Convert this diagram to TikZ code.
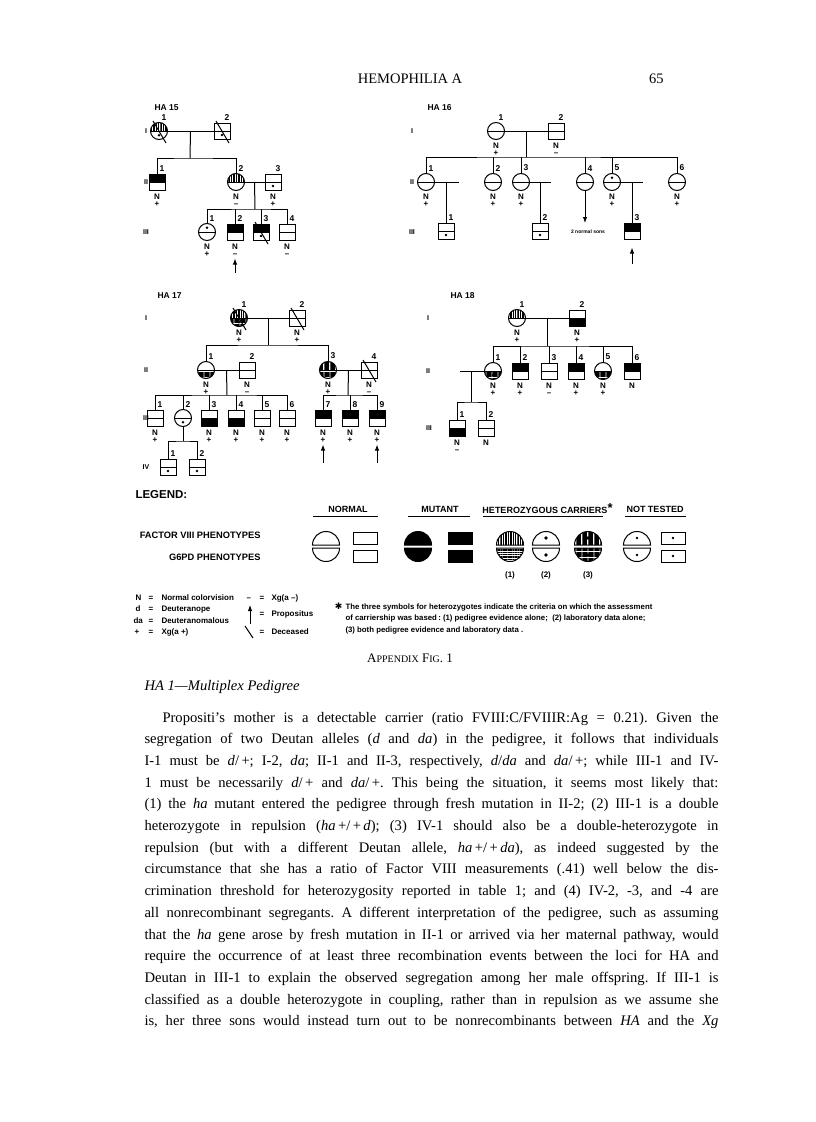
\documentclass[tikz,border=0pt]{standalone}
\usepackage{fontspec}
\setmainfont{Liberation Serif}
\setsansfont{Liberation Sans}
\newfontfamily\symfont{DejaVu Sans}
\usetikzlibrary{positioning,calc,arrows.meta,patterns.meta}
\frenchspacing

\newcommand\patnone[1]{}
\newcommand\patblack[1]{\fill (path picture bounding box.west) rectangle (path picture bounding box.#1 east);}
\newcommand\patdot[1]{\fill ($(path picture bounding box.center)!0.5!(path picture bounding box.#1)$) circle[radius=1.4];}
\newcommand\patvl[1]{\fill[pattern={Lines[angle=90,distance=1.7pt,line width=0.6pt]}] (path picture bounding box.west) rectangle (path picture bounding box.#1 east);}
\newcommand\pathl[1]{\fill[pattern={Lines[angle=0,distance=1.7pt,line width=0.6pt]}] (path picture bounding box.west) rectangle (path picture bounding box.#1 east);}
\newcommand\patvd[1]{\fill[pattern={Lines[angle=90,distance=1.2pt,line width=0.8pt]}] (path picture bounding box.west) rectangle (path picture bounding box.#1 east);\patdot{#1}}
\newcommand\pathd[1]{\fill[pattern={Lines[angle=0,distance=1.2pt,line width=0.8pt]}] (path picture bounding box.west) rectangle (path picture bounding box.#1 east);\patdot{#1}}

\newcommand\person[6]{%
  \node[#4] (#1) at (#2,#3) {};
  \node[num, anchor=south] (#1n) at ([xshift=5pt,yshift=1.5pt]#1.north) {#5};
  \if\relax\detokenize{#6}\relax\else
    \node[ntext, anchor=north] (#1t) at ([yshift=-2.5pt]#1.south) {#6};
  \fi}
\newcommand\dead[1]{\draw ([shift={(-6,-10)}]#1.center) -- ([shift={(7,12)}]#1.center);}

\def\lr{13.5}
\newcommand\dome[3]{\draw[#3] (#1,#2) ++(-\lr,0) arc[start angle=180,end angle=360,radius=\lr] -- cycle;}
\newcommand\bowl[3]{\draw[#3] (#1,#2) ++(-\lr,0) arc[start angle=180,end angle=0,radius=\lr] -- cycle;}
\newcommand\slab[3]{\draw[#3] (#1-12,#2) rectangle (#1+12,#2+12);}

\begin{document}
\begin{tikzpicture}[x=1pt, y=-1pt, line width=1pt,
  fviii/.estore in=\fviiipat, gpd/.estore in=\gpdpat,
  indiv/.style={draw, inner sep=0pt, fviii=none, gpd=none,
    path picture={\csname pat\fviiipat\endcsname{north}\csname pat\gpdpat\endcsname{south}
      \draw (path picture bounding box.west) -- (path picture bounding box.east);}},
  fem/.style={indiv, circle, minimum size=17pt},
  mal/.style={indiv, rectangle, minimum size=16pt},
  num/.style={font=\sffamily\bfseries\fontsize{8.5}{8.5}\selectfont, inner sep=0pt},
  ntext/.style={font=\sffamily\bfseries\fontsize{8}{7}\selectfont, align=center, inner sep=0pt},
  gen/.style={font=\sffamily\bfseries\fontsize{7}{7}\selectfont, inner sep=0pt},
  title/.style={font=\sffamily\bfseries\fontsize{8.5}{8.5}\selectfont, inner sep=0pt, anchor=west},
  pro/.style={-{Latex[length=6pt,width=4.5pt]}},
  hdr/.style={font=\sffamily\bfseries\fontsize{9}{9}\selectfont, inner sep=0pt},
  rowtxt/.style={font=\sffamily\bfseries\fontsize{9.3}{9.3}\selectfont, inner sep=0pt, anchor=east},
  keytxt/.style={font=\sffamily\bfseries\fontsize{8}{8}\selectfont, inner sep=0pt, anchor=base west},
  note/.style={font=\sffamily\bfseries\fontsize{7.8}{11.5}\selectfont, inner sep=0pt, align=left, anchor=north west},
  body/.style={font=\fontsize{14.6}{17}\selectfont, inner sep=0pt, anchor=base west}]

\useasboundingbox (0,0) rectangle (816,1122);
\fill[white] (0,0) rectangle (816,1122);

\node[font=\fontsize{14.5}{14.5}\selectfont, inner sep=0pt] (head) at (410,79) {HEMOPHILIA A};
\node[font=\fontsize{14.5}{14.5}\selectfont, inner sep=0pt, anchor=east] (page) at (664,79) {65};

% HA 15
\node[title] (t15) at (154,108) {HA 15};
\node[gen] (g15a) at (146,131) {I};
\node[gen] (g15b) at (146,182) {II};
\node[gen] (g15c) at (146,232) {III};
\person{h15a1}{159}{131}{fem,fviii=vl,gpd=dot}{1}{}
\person{h15a2}{222}{131}{mal,gpd=dot}{2}{}
\dead{h15a1} \dead{h15a2}
\person{h15b1}{157}{182}{mal,fviii=black}{1}{N\\+}
\person{h15b2}{236}{182}{fem,fviii=vl}{2}{N\\–}
\person{h15b3}{273}{182}{mal,gpd=dot}{3}{N\\+}
\person{h15c1}{207}{232}{fem,fviii=dot}{1}{N\\+}
\person{h15c2}{235}{232}{mal,fviii=black}{2}{N\\–}
\person{h15c3}{261}{232}{mal,fviii=black,gpd=dot}{3}{}
\person{h15c4}{287}{232}{mal}{4}{N\\–}
\dead{h15c3}
\coordinate (m15a) at ($(h15a1)!0.5!(h15a2)$);
\coordinate (s15a) at (190,158);
\coordinate (m15b) at ($(h15b2)!0.5!(h15b3)$);
\coordinate (s15b) at (255,209);
\draw (h15a1) -- (h15a2);
\draw (m15a) -- (s15a);
\draw (h15b1.north) |- (s15a) -| (h15b2.north);
\draw (h15b2) -- (h15b3);
\draw (m15b) -- (s15b);
\draw (h15c1.north) |- (s15b) -| (h15c4.north);
\draw (h15c2.north) -- (h15c2 |- s15b);
\draw (h15c3.north) -- (h15c3 |- s15b);
\coordinate (q15) at (235,273);
\draw[pro] (q15) -- ([yshift=-2pt]h15c2t.south);

% HA 16
\node[title] (t16) at (427,108) {HA 16};
\node[gen] (g16a) at (412,131) {I};
\node[gen] (g16b) at (412,182) {II};
\node[gen] (g16c) at (412,232) {III};
\person{h16a1}{496}{131}{fem}{1}{N\\+}
\person{h16a2}{556}{131}{mal}{2}{N\\–}
\person{h16b1}{426}{182}{fem}{1}{N\\+}
\person{h16b2}{493}{182}{fem}{2}{N\\+}
\person{h16b3}{521}{182}{fem}{3}{N\\+}
\person{h16b4}{585}{182}{fem}{4}{}
\person{h16b5}{612}{182}{fem,fviii=dot}{5}{N\\+}
\person{h16b6}{677}{182}{fem}{6}{N\\+}
\person{h16c1}{446}{231}{mal,gpd=dot}{1}{}
\person{h16c2}{540}{231}{mal,gpd=dot}{2}{}
\person{h16c3}{632}{231}{mal,fviii=black}{3}{}
\coordinate (m16) at ($(h16a1)!0.5!(h16a2)$);
\coordinate (s16) at (526,157);
\coordinate (w16a) at (459,182);
\coordinate (w16b) at (551,182);
\coordinate (w16c) at (643,182);
\coordinate (e16) at (585,223);
\draw (h16a1) -- (h16a2);
\draw (m16) -- (s16);
\draw (h16b1.north) |- (s16) -| (h16b6.north);
\foreach \k in {2,3,4,5} \draw (h16b\k.north) -- (h16b\k |- s16);
\draw (h16b1) -- (w16a);
\draw (h16b3) -- (w16b);
\draw (h16b5) -- (w16c);
\draw (h16b1 -| h16c1) -- (h16c1.north);
\draw (h16b3 -| h16c2) -- (h16c2.north);
\draw (h16b5 -| h16c3) -- (h16c3.north);
\draw[pro] (h16b4) -- (e16);
\node[font=\sffamily\bfseries\fontsize{5}{5}\selectfont, inner sep=0pt] (n16) at (588,232) {2 normal sons};
\coordinate (q16) at (632,264);
\draw[pro] (q16) -- ([yshift=-8pt]h16c3.south);

% HA 17
\node[title] (t17) at (157,296) {HA 17};
\node[gen] (g17a) at (146,318) {I};
\node[gen] (g17b) at (146,370) {II};
\node[gen] (g17c) at (146,418) {III};
\node[gen] (g17d) at (146,467) {IV};
\person{h17a1}{239}{318}{fem,fviii=vl,gpd=hd}{1}{N\\+}
\person{h17a2}{297}{318}{mal}{2}{N\\+}
\dead{h17a1} \dead{h17a2}
\person{h17b1}{206}{370}{fem,gpd=hd}{1}{N\\+}
\person{h17b2}{247}{370}{mal}{2}{N\\–}
\person{h17b3}{328}{370}{fem,fviii=vd,gpd=hd}{3}{N\\+}
\person{h17b4}{369}{370}{mal}{4}{N\\–}
\dead{h17b4}
\person{h17c1}{155}{418}{mal}{1}{N\\+}
\person{h17c2}{183}{418}{fem,gpd=dot}{2}{}
\person{h17c3}{209}{418}{mal,gpd=black}{3}{N\\+}
\person{h17c4}{236}{418}{mal,gpd=black}{4}{N\\+}
\person{h17c5}{262}{418}{mal}{5}{N\\+}
\person{h17c6}{287}{418}{mal}{6}{N\\+}
\person{h17c7}{323}{418}{mal,fviii=black}{7}{N\\+}
\person{h17c8}{350}{418}{mal,fviii=black}{8}{N\\+}
\person{h17c9}{377}{418}{mal,fviii=black}{9}{N\\+}
\person{h17d1}{168}{467}{mal,gpd=dot}{1}{}
\person{h17d2}{197}{467}{mal,gpd=dot}{2}{}
\coordinate (m17a) at ($(h17a1)!0.5!(h17a2)$);
\coordinate (s17a) at (268,345);
\coordinate (m17b) at ($(h17b1)!0.5!(h17b2)$);
\coordinate (s17b) at (227,395);
\coordinate (m17c) at ($(h17b3)!0.5!(h17b4)$);
\coordinate (s17c) at (348,395);
\coordinate (s17d) at (183,441);
\draw (h17a1) -- (h17a2);
\draw (m17a) -- (s17a);
\draw (h17b1.north) |- (s17a) -| (h17b3.north);
\draw (h17b1) -- (h17b2);
\draw (h17b3) -- (h17b4);
\draw (m17b) -- (s17b);
\draw (m17c) -- (s17c);
\draw (h17c1.north) |- (s17b) -| (h17c6.north);
\foreach \k in {2,3,4,5} \draw (h17c\k.north) -- (h17c\k |- s17b);
\draw (h17c7.north) |- (s17c) -| (h17c9.north);
\draw (h17c8.north) -- (h17c8 |- s17c);
\draw (h17c2) -- (s17d);
\draw (h17d1.north) |- (s17d) -| (h17d2.north);
\coordinate (q17a) at (323,463);
\coordinate (q17b) at (377,463);
\draw[pro] (q17a) -- ([yshift=-2pt]h17c7t.south);
\draw[pro] (q17b) -- ([yshift=-2pt]h17c9t.south);

% HA 18
\node[title] (t18) at (450,296) {HA 18};
\node[gen] (g18a) at (428,318) {I};
\node[gen] (g18b) at (428,371) {II};
\node[gen] (g18c) at (429,428) {III};
\person{h18a1}{517}{318}{fem,fviii=vl}{1}{N\\+}
\person{h18a2}{577}{318}{mal,gpd=black}{2}{N\\+}
\person{h18b1}{493}{371}{fem,gpd=hd}{1}{N\\+}
\person{h18b2}{520}{371}{mal,fviii=black}{2}{N\\+}
\person{h18b3}{549}{371}{mal}{3}{N\\–}
\person{h18b4}{576}{371}{mal,fviii=black}{4}{N\\+}
\person{h18b5}{603}{371}{fem,gpd=hd}{5}{N\\+}
\person{h18b6}{632}{371}{mal,fviii=black}{6}{N}
\person{h18c1}{457}{428}{mal,gpd=black}{1}{N\\–}
\person{h18c2}{486}{428}{mal}{2}{N}
\coordinate (m18) at ($(h18a1)!0.5!(h18a2)$);
\coordinate (s18a) at (547,346);
\coordinate (w18) at (460,371);
\coordinate (s18b) at (471,402);
\draw (h18a1) -- (h18a2);
\draw (m18) -- (s18a);
\draw (h18b1.north) |- (s18a) -| (h18b6.north);
\foreach \k in {2,3,4,5} \draw (h18b\k.north) -- (h18b\k |- s18a);
\draw (h18b1) -- (w18);
\draw (h18b1 -| s18b) -- (s18b);
\draw (h18c1.north) |- (s18b) -| (h18c2.north);

% legend
\node[font=\sffamily\bfseries\fontsize{11.5}{11.5}\selectfont, inner sep=0pt, anchor=west] (leg) at (135,495) {LEGEND:};
\node[hdr] (hn) at (348,509) {NORMAL};
\node[hdr] (hm) at (440,509) {MUTANT};
\node[hdr] (hh) at (545,509) {HETEROZYGOUS CARRIERS\rlap{\raisebox{1pt}{\fontsize{13}{13}\selectfont*}}};
\node[hdr] (ht) at (655,509) {NOT TESTED};
\draw (313,516) -- (378,516);
\draw (408,516) -- (470,516);
\draw (483,516) -- (603,516);
\draw (625,516) -- (686,516);
\node[rowtxt] (f8) at (261,535) {FACTOR VIII PHENOTYPES};
\node[rowtxt] (g6) at (261,557) {G6PD PHENOTYPES};

\dome{326}{545}{} \bowl{326}{548}{}
\slab{365}{532}{} \slab{365}{550}{}
\dome{418}{545}{fill=black} \bowl{418}{548}{fill=black}
\slab{460}{532}{fill=black} \slab{460}{550}{fill=black}
\dome{510}{545}{pattern={Lines[angle=90,distance=1.7pt,line width=0.6pt]}}
\bowl{510}{548}{pattern={Lines[angle=0,distance=1.7pt,line width=0.6pt]}}
\dome{546}{545}{} \bowl{546}{548}{}
\fill (546,538) circle[radius=1.8]; \fill (546,555) circle[radius=1.8];
\dome{588}{545}{pattern={Lines[angle=90,distance=1.2pt,line width=0.8pt]}}
\bowl{588}{548}{pattern={Lines[angle=0,distance=1.2pt,line width=0.8pt]}}
\fill (588,538) circle[radius=1.8]; \fill (588,555) circle[radius=1.8];
\dome{637}{545}{} \bowl{637}{548}{}
\fill (637,538) circle[radius=1.4]; \fill (637,555) circle[radius=1.4];
\slab{673}{532}{} \slab{673}{550}{}
\fill (673,538) circle[radius=1.4]; \fill (673,556) circle[radius=1.4];
\node[keytxt, anchor=center] (c1) at (510,575) {(1)};
\node[keytxt, anchor=center] (c2) at (546,575) {(2)};
\node[keytxt, anchor=center] (c3) at (588,575) {(3)};

\node[keytxt] (kn1) at (135,600) {N};
\node[keytxt] (kn2) at (148,600) {=};
\node[keytxt] (kn3) at (161,600) {Normal colorvision};
\node[keytxt] (kd1) at (135,611.5) {d};
\node[keytxt] (kd2) at (148,611.5) {=};
\node[keytxt] (kd3) at (161,611.5) {Deuteranope};
\node[keytxt] (ka1) at (133,623) {da};
\node[keytxt] (ka2) at (148,623) {=};
\node[keytxt] (ka3) at (161,623) {Deuteranomalous};
\node[keytxt] (kp1) at (134,634.5) {+};
\node[keytxt] (kp2) at (148,634.5) {=};
\node[keytxt] (kp3) at (161,634.5) {Xg(a +)};
\node[keytxt] (km1) at (246,600) {–};
\node[keytxt] (km2) at (259,600) {=};
\node[keytxt] (km3) at (271,600) {Xg(a –)};
\coordinate (kr1) at (250,624);
\coordinate (kr2) at (250,605);
\draw[pro] (kr1) -- (kr2);
\node[keytxt] (kr3) at (259,616) {=};
\node[keytxt] (kr4) at (271,616) {Propositus};
\coordinate (kx1) at (245,626);
\coordinate (kx2) at (253,638);
\draw (kx1) -- (kx2);
\node[keytxt] (kx3) at (259,634.5) {=};
\node[keytxt] (kx4) at (271,634.5) {Deceased};
\node[note] (fn) at (345,602) {\llap{{\symfont\fontsize{9}{9}\selectfont ✱}\hspace{3pt}}The three symbols for heterozygotes indicate the criteria on which the assessment\\
  of carriership was based\,: (1) pedigree evidence alone; \ (2) laboratory data alone;\\
  (3) both pedigree evidence and laboratory data .};

\node[inner sep=0pt, font=\fontsize{13}{13}\selectfont] (cap) at (410,658) {A{\fontsize{10}{10}\selectfont PPENDIX} F{\fontsize{10}{10}\selectfont IG}. 1};

% text
\node[body, font=\itshape\fontsize{14.6}{17}\selectfont] (hd) at (144,690) {HA 1—Multiplex Pedigree};
\node[body] (l1) at (162,722) {\makebox[556pt][s]{Propositi’s mother is a detectable carrier (ratio FVIII:C/FVIIIR:Ag = 0.21). Given the}};
\node[body] (l2) at (144,743.7) {\makebox[574pt][s]{segregation of two Deutan alleles (\textit{d} and \textit{da}) in the pedigree, it follows that individuals}};
\node[body] (l3) at (144,765.4) {\makebox[574pt][s]{I-1 must be \textit{d}/\,+; I-2, \textit{da}; II-1 and II-3, respectively, \textit{d}/\textit{da} and \textit{da}/\,+; while III-1 and IV-}};
\node[body] (l4) at (144,787.1) {\makebox[574pt][s]{1 must be necessarily \textit{d}/\,+ and \textit{da}/\,+. This being the situation, it seems most likely that:}};
\node[body] (l5) at (144,808.8) {\makebox[574pt][s]{(1) the \textit{ha} mutant entered the pedigree through fresh mutation in II-2; (2) III-1 is a double}};
\node[body] (l6) at (144,830.5) {\makebox[574pt][s]{heterozygote in repulsion (\textit{ha}\,+/\,+\,\textit{d}); (3) IV-1 should also be a double-heterozygote in}};
\node[body] (l7) at (144,852.2) {\makebox[574pt][s]{repulsion (but with a different Deutan allele, \textit{ha}\,+/\,+\,\textit{da}), as indeed suggested by the}};
\node[body] (l8) at (144,873.9) {\makebox[574pt][s]{circumstance that she has a ratio of Factor VIII measurements (.41) well below the dis-}};
\node[body] (l9) at (144,895.6) {\makebox[574pt][s]{crimination threshold for heterozygosity reported in table 1; and (4) IV-2, -3, and -4 are}};
\node[body] (l10) at (144,917.3) {\makebox[574pt][s]{all nonrecombinant segregants. A different interpretation of the pedigree, such as assuming}};
\node[body] (l11) at (144,939) {\makebox[574pt][s]{that the \textit{ha} gene arose by fresh mutation in II-1 or arrived via her maternal pathway, would}};
\node[body] (l12) at (144,960.7) {\makebox[574pt][s]{require the occurrence of at least three recombination events between the loci for HA and}};
\node[body] (l13) at (144,982.4) {\makebox[574pt][s]{Deutan in III-1 to explain the observed segregation among her male offspring. If III-1 is}};
\node[body] (l14) at (144,1004.1) {\makebox[574pt][s]{classified as a double heterozygote in coupling, rather than in repulsion as we assume she}};
\node[body] (l15) at (144,1025.8) {\makebox[574pt][s]{is, her three sons would instead turn out to be nonrecombinants between \textit{HA} and the \textit{Xg}}};

\end{tikzpicture}
\end{document}
